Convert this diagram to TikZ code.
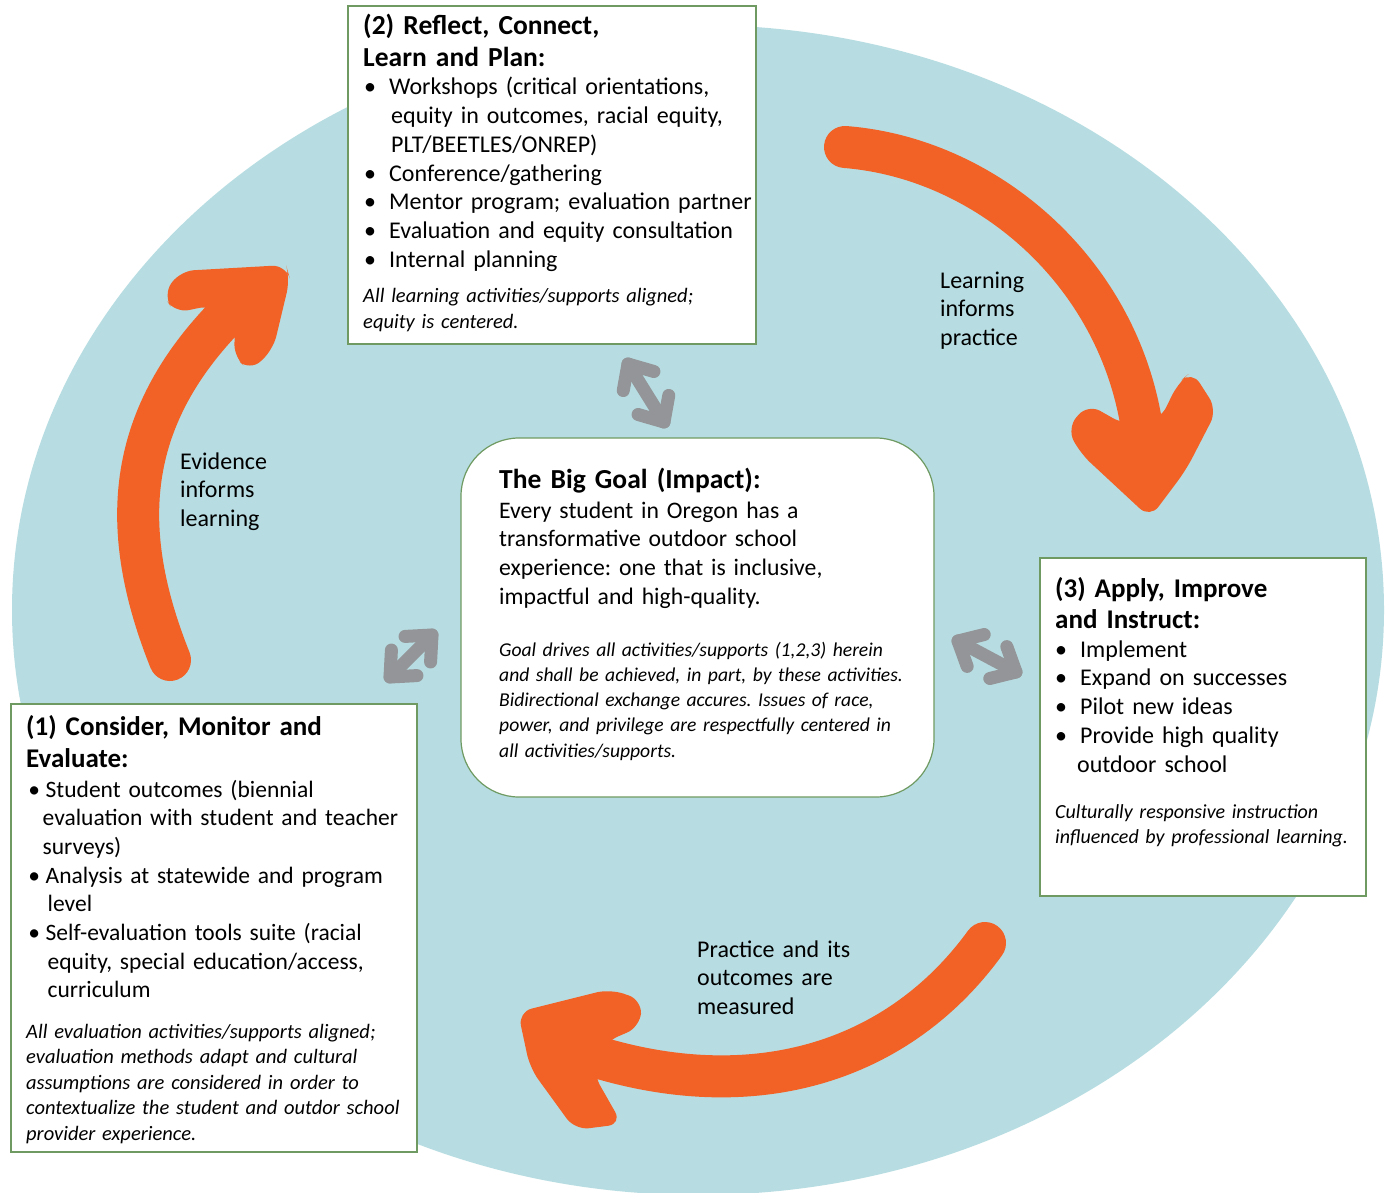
\documentclass[tikz,border=0pt]{standalone}
\usepackage{fontspec}
\setmainfont{Carlito}
\usetikzlibrary{calc}
\definecolor{bgblue}{HTML}{B7DDE2}
\definecolor{orng}{HTML}{F26125}
\definecolor{agray}{HTML}{939598}
\definecolor{bxgreen}{HTML}{6F9A62}
\newcommand\bul[1]{\makebox[0pt][c]{•}\hspace*{#1pt}}
\newcommand\ind[1]{\hspace*{#1pt}}
\frenchspacing
\hyphenpenalty=10000
\exhyphenpenalty=10000
\begin{document}
\begin{tikzpicture}[x=1pt,y=-1pt,
  box/.style={draw=bxgreen,line width=1.2pt,fill=white,inner sep=0pt,outer sep=0pt,anchor=north west},
  body/.style={font=\fontsize{24}{#1}\selectfont,anchor=base west,inner sep=0pt,text width=420pt,align=left},
  body/.default=28.7,
  ttl/.style={font=\fontsize{27.5}{#1}\selectfont\bfseries,anchor=base west,inner sep=0pt,text width=400pt,align=left},
  ttl/.default=32,
  note/.style={font=\fontsize{20.5}{#1}\selectfont\itshape,anchor=base west,inner sep=0pt,text width=430pt,align=left},
  note/.default=25.5,
  shaft/.style={draw=orng,line width=42pt,line cap=round},
  head/.style={fill=orng,rounded corners=14pt},
  garrow/.style={draw=agray,line width=13pt,line cap=round,line join=round}
]
\useasboundingbox (0,0) rectangle (1386,1193);
\fill[white] (0,0) rectangle (1386,1193);
\fill[bgblue] (698,610) ellipse [x radius=686, y radius=585];

% ---- orange arrows ----
\coordinate (a1s) at (170,660);
\coordinate (a1e) at (226,316);
\draw[shaft] (a1s) .. controls (118,530) and (125,420) .. (a1e);
\fill[head] (213,305) -- (175,313) -- (163,295) -- (180,271) -- (286,265) -- (290,279) -- (273,350) -- (250,371) -- (233,356) -- (236,328) -- cycle;

\coordinate (a2s) at (845,147);
\coordinate (a2e) at (1142,428);
\draw[shaft] (a2s) .. controls (985,158) and (1118,270) .. (a2e);
\fill[head] (1125,425) -- (1088,404) -- (1067,428) -- (1080,453) -- (1150,518) -- (1186,470) -- (1217,410) -- (1192,371) -- (1178,383) -- (1160,420) -- cycle;

\coordinate (a3s) at (985,943);
\coordinate (a3e) at (600,1058);
\draw[shaft] (a3s) .. controls (900,1060) and (760,1105) .. (a3e);
\fill[head] (605,1042) -- (640,1027) -- (642,1000) -- (610,989) -- (518,1012) -- (530,1068) -- (575,1130) -- (622,1124) -- (593,1073) -- cycle;

% ---- boxes ----
\node[box,minimum width=408pt,minimum height=338pt] (box2) at (348,6) {};
\node[box,minimum width=473pt,minimum height=359pt,rounded corners=58pt] (goal) at (461,438) {};
\node[box,minimum width=406pt,minimum height=448pt] (box1) at (11,704) {};
\node[box,minimum width=326pt,minimum height=338pt] (box3) at (1040,558) {};

% ---- gray double arrows ----
\coordinate (g1a) at (628,364);
\coordinate (g1b) at (664,422);
\draw[garrow] (g1a) -- (g1b);
\draw[garrow] ($(g1a)!27pt!42:(g1b)$) -- (g1a) -- ($(g1a)!27pt!-42:(g1b)$);
\draw[garrow] ($(g1b)!27pt!42:(g1a)$) -- (g1b) -- ($(g1b)!27pt!-42:(g1a)$);

\coordinate (g2a) at (390,677);
\coordinate (g2b) at (432,635);
\draw[garrow] (g2a) -- (g2b);
\draw[garrow] ($(g2a)!27pt!42:(g2b)$) -- (g2a) -- ($(g2a)!27pt!-42:(g2b)$);
\draw[garrow] ($(g2b)!27pt!42:(g2a)$) -- (g2b) -- ($(g2b)!27pt!-42:(g2a)$);

\coordinate (g3a) at (958,641);
\coordinate (g3b) at (1016,672);
\draw[garrow] (g3a) -- (g3b);
\draw[garrow] ($(g3a)!27pt!42:(g3b)$) -- (g3a) -- ($(g3a)!27pt!-42:(g3b)$);
\draw[garrow] ($(g3b)!27pt!42:(g3a)$) -- (g3b) -- ($(g3b)!27pt!-42:(g3a)$);

% ---- box 2 text ----
\node[ttl] (t2) at (363,35) {(2) Reflect, Connect,\\Learn and Plan:};
\node[body] (l2) at (370,95) {\bul{19}Workshops (critical orientations,\\
\ind{21}equity in outcomes, racial equity,\\
\ind{21}PLT/BEETLES/ONREP)\\
\bul{19}Conference/gathering\\
\bul{19}Mentor program; evaluation partner\\
\bul{19}Evaluation and equity consultation\\
\bul{19}Internal planning};
\node[note=26,text width=400pt] (n2) at (363,302) {All learning activities/supports aligned;\\equity is centered.};

% ---- goal text ----
\node[ttl] (tg) at (499,488) {The Big Goal (Impact):};
\node[body,font=\fontsize{23.7}{28.7}\selectfont] (lg) at (499,518) {Every student in Oregon has a\\transformative outdoor school\\experience: one that is inclusive,\\impactful and high-quality.};
\node[note,font=\fontsize{19.6}{25.3}\selectfont\itshape] (ng) at (499,656) {Goal drives all activities/supports (1,2,3) herein\\and shall be achieved, in part, by these activities.\\Bidirectional exchange accures. Issues of race,\\power, and privilege are respectfully centered in\\all activities/supports.};

% ---- box 1 text ----
\node[ttl,font=\fontsize{27}{32}\selectfont\bfseries] (t1) at (26,735) {(1) Consider, Monitor and\\Evaluate:};
\node[body,font=\fontsize{23.5}{28.7}\selectfont,text width=400pt] (l1) at (34,797) {\bul{11.5}Student outcomes (biennial\\
\ind{8.5}evaluation with student and teacher\\
\ind{8.5}surveys)\\
\bul{11.5}Analysis at statewide and program\\
\ind{13.5}level\\
\bul{11.5}Self-evaluation tools suite (racial\\
\ind{13.5}equity, special education/access,\\
\ind{13.5}curriculum};
\node[note=25.5,text width=400pt] (n1) at (26,1038) {All evaluation activities/supports aligned;\\evaluation methods adapt and cultural\\assumptions are considered in order to\\contextualize the student and outdor school\\provider experience.};

% ---- box 3 text ----
\node[ttl=31,font=\fontsize{27}{31}\selectfont\bfseries,text width=320pt] (t3) at (1055,597) {(3) Apply, Improve\\and Instruct:};
\node[body=28.9,text width=310pt] (l3) at (1061,657) {\bul{19}Implement\\
\bul{19}Expand on successes\\
\bul{19}Pilot new ideas\\
\bul{19}Provide high quality\\
\ind{16}outdoor school};
\node[note,font=\fontsize{20}{25}\selectfont\itshape,text width=320pt] (n3) at (1055,818) {Culturally responsive instruction\\influenced by professional learning.};

% ---- arrow labels ----
\node[body=28.5,text width=150pt] (lbl1) at (180,469) {Evidence\\informs\\learning};
\node[body=28.5,text width=150pt] (lbl2) at (940,288) {Learning\\informs\\practice};
\node[body=28.5,text width=250pt] (lbl3) at (697,957) {Practice and its\\outcomes are\\measured};
\end{tikzpicture}
\end{document}
